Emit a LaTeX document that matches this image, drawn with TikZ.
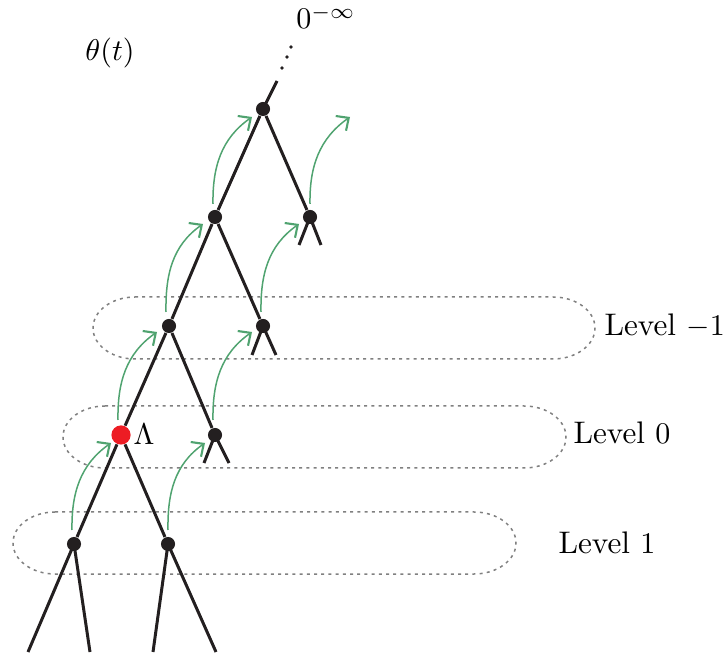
\documentclass[tikz,border=0pt]{standalone}
\usetikzlibrary{arrows.meta}
\definecolor{tblack}{RGB}{35,31,32}
\definecolor{tred}{RGB}{237,28,36}
\definecolor{tgreen}{RGB}{80,163,112}
\definecolor{tgray}{RGB}{128,128,128}
\begin{document}
\begin{tikzpicture}[x=0.3333pt,y=0.3333pt,
  tnode/.style={circle,fill=tblack,inner sep=0pt,minimum size=4.7pt},
  rnode/.style={circle,fill=tred,inner sep=0pt,minimum size=6.4pt},
  leg/.style={tblack,line width=1pt},
  garrow/.style={tgreen,line width=0.5pt,-{Straight Barb[length=3.2pt,width=6pt,line width=0.7pt]}},
  lvl/.style={draw=tgray,line width=0.5pt,dash pattern=on 1pt off 1.4pt},
  lab/.style={font=\fontsize{10.4}{12}\selectfont,inner sep=0pt}]
\useasboundingbox (0,0) rectangle (727,-655);
% level regions (stadium shapes with elliptical ends)
\draw[lvl] (135,-297) -- (553,-297) arc[start angle=90,end angle=-90,x radius=42,y radius=31]
  -- (135,-359) arc[start angle=270,end angle=90,x radius=42,y radius=31] -- cycle;
\draw[lvl] (105,-406) -- (524,-406) arc[start angle=90,end angle=-90,x radius=42,y radius=31]
  -- (105,-468) arc[start angle=270,end angle=90,x radius=42,y radius=31] -- cycle;
\draw[lvl] (55,-512) -- (474,-512) arc[start angle=90,end angle=-90,x radius=42,y radius=31]
  -- (55,-574) arc[start angle=270,end angle=90,x radius=42,y radius=31] -- cycle;
% tree nodes
\node[tnode] (top) at (263,-109) {};
\node[tnode] (m2a) at (215,-217) {};
\node[tnode] (m2b) at (310,-217) {};
\node[tnode] (m1a) at (169,-326) {};
\node[tnode] (m1b) at (263,-326) {};
\node[rnode] (red) at (121,-435) {};
\node[tnode] (z0b) at (215,-435) {};
\node[tnode] (p1a) at (74,-544) {};
\node[tnode] (p1b) at (168,-544) {};
% free ends
\coordinate (up) at (277,-81);
\coordinate (m2bl) at (299,-245);
\coordinate (m2br) at (321,-245);
\coordinate (m1bl) at (252,-355);
\coordinate (m1br) at (276,-355);
\coordinate (z0bl) at (204,-463);
\coordinate (z0br) at (229,-463);
\coordinate (p1al) at (28,-652);
\coordinate (p1ar) at (90,-652);
\coordinate (p1bl) at (153,-652);
\coordinate (p1br) at (216,-652);
\coordinate (atip) at (350,-117);
% edges
\draw[leg] (top.center) -- (up);
\draw[leg] (top) -- (m2a);
\draw[leg] (top) -- (m2b);
\draw[leg] (m2a) -- (m1a);
\draw[leg] (m2a) -- (m1b);
\draw[leg] (m2b.center) -- (m2bl);
\draw[leg] (m2b.center) -- (m2br);
\draw[leg] (m1a) -- (red);
\draw[leg] (m1a) -- (z0b);
\draw[leg] (m1b.center) -- (m1bl);
\draw[leg] (m1b.center) -- (m1br);
\draw[leg] (red) -- (p1a);
\draw[leg] (red) -- (p1b);
\draw[leg] (z0b.center) -- (z0bl);
\draw[leg] (z0b.center) -- (z0br);
\draw[leg] (p1a.center) -- (p1al);
\draw[leg] (p1a.center) -- (p1ar);
\draw[leg] (p1b.center) -- (p1bl);
\draw[leg] (p1b.center) -- (p1br);
% dots above
\fill[tblack] (282,-68) circle[radius=1.8] (287,-57) circle[radius=1.8] (291,-47) circle[radius=1.8];
% green arrows
\draw[garrow] ([shift={(-2,14)}]p1a.center) to[out=91,in=215] ([shift={(-10,-8)}]red.center);
\draw[garrow] ([shift={(0,14)}]p1b.center) to[out=91,in=215] ([shift={(-10,-8)}]z0b.center);
\draw[garrow] ([shift={(-3,15)}]red.center) to[out=91,in=215] ([shift={(-12,-6)}]m1a.center);
\draw[garrow] ([shift={(-2,15)}]z0b.center) to[out=91,in=215] ([shift={(-11,-6)}]m1b.center);
\draw[garrow] ([shift={(-3,14)}]m1a.center) to[out=91,in=215] ([shift={(-12,-7)}]m2a.center);
\draw[garrow] ([shift={(-2,14)}]m1b.center) to[out=91,in=215] ([shift={(-11,-7)}]m2b.center);
\draw[garrow] ([shift={(-2,13)}]m2a.center) to[out=91,in=215] ([shift={(-11,-8)}]top.center);
\draw[garrow] ([shift={(0,13)}]m2b.center) to[out=91,in=215] (atip);
% labels
\node[lab] (theta) at (110,-53) {$\theta(t)$};
\node[lab] (zinf) at (326,-17) {$0^{-\infty}$};
\node[lab,anchor=west] (lam) at (133,-434) {$\Lambda$};
\node[lab,anchor=west] (lvm1) at (604,-326) {Level $-1$};
\node[lab,anchor=west] (lv0) at (573,-433) {Level $0$};
\node[lab,anchor=west] (lv1) at (558,-543) {Level $1$};
\end{tikzpicture}
\end{document}
